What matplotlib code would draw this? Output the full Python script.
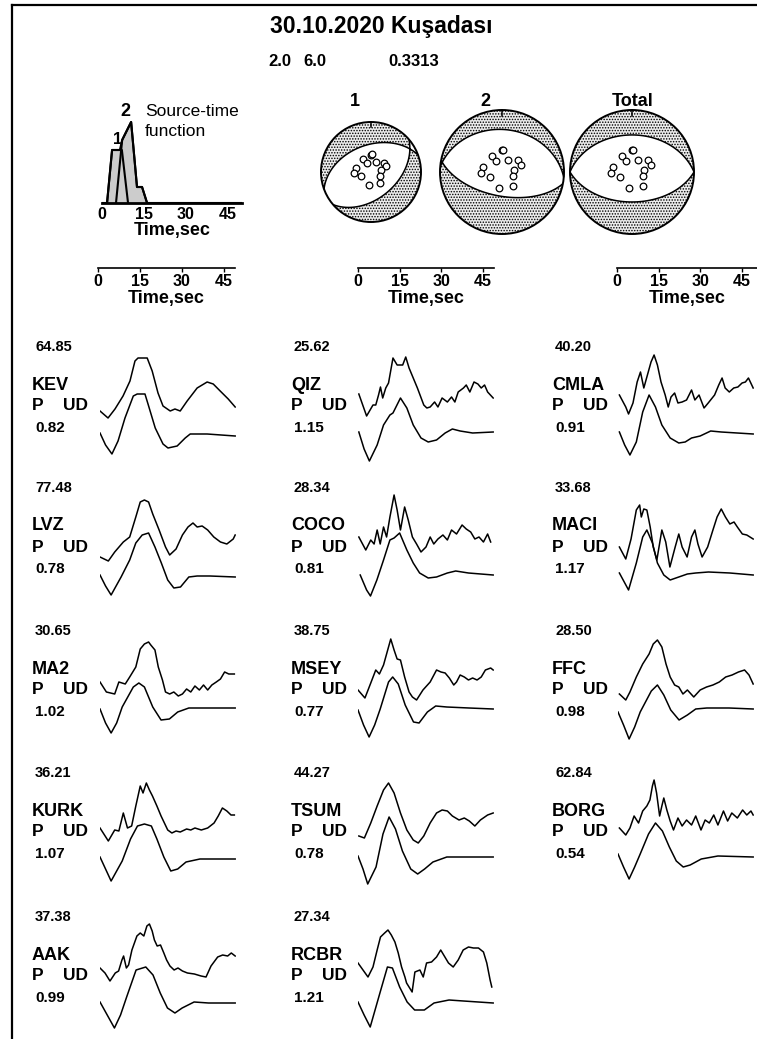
import numpy as np
import matplotlib
matplotlib.use('Agg')
import matplotlib.pyplot as plt
from matplotlib.patches import Circle

plt.rcParams['font.family'] = ['Liberation Sans', 'DejaVu Sans']
plt.rcParams['hatch.color'] = 'black'
plt.rcParams['hatch.linewidth'] = 0.7

W, H = 757, 1039

# ---- header ----
TITLE = '30.10.2020 Kuşadası'
HEADER_NUMS = ['2.0', '6.0', '0.3313']

# ---- source-time function (time in s, amplitude arbitrary) ----
STF_TOTAL_T = [0, 1.8, 3.6, 6.4, 7.2, 10.4, 12.5, 14.3, 16.1, 50]
STF_TOTAL_A = [0, 0, 53, 53, 63, 81, 16, 16, 0, 0]
STF_SUB1_T = [1.8, 3.6, 7.1, 9.3]
STF_SUB1_A = [0, 53, 53, 0]
STF_SUB2_T = [5.0, 7.2, 10.4, 12.5, 14.3, 16.1]
STF_SUB2_A = [0, 63, 81, 16, 16, 0]

# ---- focal mechanisms: strike, dip, rake ----
MECH_LABELS = ['1', '2', 'Total']
MECH_STRIKE = [250, 275, 270]
MECH_DIP = [45, 32, 40]
MECH_RAKE = [-75, -95, -90]
# station positions on the focal sphere (projected, unit radius)
STA_X = [0.0, 0.015, -0.16, -0.09, 0.09, 0.25, 0.30, -0.31, 0.20, -0.34, -0.20, 0.17, 0.17, -0.05]
STA_Y = [0.35, 0.355, 0.26, 0.18, 0.20, 0.19, 0.12, 0.08, 0.04, -0.02, -0.08, -0.07, -0.22, -0.26]

# ---- stations ----
STATIONS = ['KEV', 'QIZ', 'CMLA', 'LVZ', 'COCO', 'MACI', 'MA2', 'MSEY', 'FFC',
            'KURK', 'TSUM', 'BORG', 'AAK', 'RCBR']
TOP_VALUES = ['64.85', '25.62', '40.20', '77.48', '28.34', '33.68', '30.65', '38.75',
              '28.50', '36.21', '44.27', '62.84', '37.38', '27.34']
AMP_RATIO = ['0.82', '1.15', '0.91', '0.78', '0.81', '1.17', '1.02', '0.77', '0.98',
             '1.07', '0.78', '0.54', '0.99', '1.21']

# waveforms: (time s, amplitude) knots, observed (top) and synthetic (bottom)
KEV_OBS = [(0, 0), (2.9, -7), (5.4, 2), (8.3, 15), (10.8, 30), (12.6, 50), (13.7, 53), (17, 53),
           (18.8, 40), (20.9, 18), (22.7, 5), (25.3, 0), (27, 2), (28.9, 0), (31.4, 10), (35, 23),
           (38.6, 29), (40.8, 27), (43.3, 20), (46.2, 12), (48.7, 4)]
KEV_SYN = [(0, 0), (2, -12), (4.3, -21), (6.5, -8), (9, 15), (12, 37), (13.4, 39), (16.2, 39),
           (17.3, 29), (19.9, 5), (22.7, -11), (24.5, -15), (27.8, -13), (30.7, -5), (32.5, -1),
           (38.6, -1), (48.7, -3)]
QIZ_OBS = [(0.3, 17), (3.1, -5), (5.4, 6), (6.4, 6), (7.4, 16), (8.1, 24), (8.9, 13), (10, 23),
           (11, 28), (12.6, 53), (14.1, 46), (16.1, 46), (17.2, 54), (18.4, 43), (19.9, 33),
           (21.4, 23), (23.7, 6), (24.8, 3), (26, 4), (27.6, 9), (28.8, 4), (30.3, 13), (32.2, 9),
           (33.7, 14), (34.9, 9), (36.1, 19), (38, 23), (39, 26), (40.3, 19), (41.8, 29),
           (43.2, 27), (44.4, 23), (45.6, 26), (46.7, 19), (48.7, 13)]
QIZ_SYN = [(0.3, 1), (2.2, -16), (4.1, -28), (6.9, -12), (9.2, 8), (11.5, 18), (12.6, 20),
           (15.3, 35), (17.6, 25), (19.9, 8), (22.7, -5), (25.3, -9), (28.3, -7), (31.4, 0),
           (34, 4), (36.8, 2), (41.3, 0), (48.7, 1)]
CMLA_OBS = [(0.5, 16), (2.8, 4), (3.8, -3), (5.4, 8), (6.9, 29), (8.1, 39), (9.3, 23), (10.4, 34),
            (11.9, 49), (13, 56), (14.2, 46), (15.5, 29), (17, 16), (18.1, 4), (19.1, 14),
            (20.4, 18), (21.6, 8), (23.1, 9), (24.7, 11), (26.5, 21), (27.7, 11), (29.2, 16),
            (31, 3), (32.5, 8), (34.8, 16), (36.3, 26), (37.5, 33), (38.6, 23), (40.1, 19),
            (41.7, 23), (43.2, 24), (44.7, 28), (45.9, 29), (47, 33), (48.7, 23)]
CMLA_SYN = [(0.5, 1), (2.4, -12), (4.3, -22), (6.6, -9), (8.9, 21), (11.2, 38), (13.5, 26),
            (15.8, 8), (18.8, -5), (21.9, -10), (24.2, -9), (26.5, -5), (29.6, -3), (33.4, 2),
            (37.2, 1), (48.7, -1)]
LVZ_OBS = [(0, -5), (3, -9), (5.3, 0), (8.4, 10), (10.7, 15), (12.9, 35), (14.5, 50), (16, 52),
           (17.5, 50), (19, 38), (21.3, 22), (23.6, 5), (25.1, -3), (27.4, 3), (29.7, 17),
           (31.7, 25), (33.5, 29), (35, 25), (36.8, 26), (38.8, 22), (41, 15), (43.4, 10),
           (45.7, 8), (48, 13), (48.7, 17)]
LVZ_SYN = [(0, -1), (2, -12), (4, -21), (7.6, -3), (10.7, 14), (12.9, 31), (15.2, 39), (17.5, 41),
           (19.8, 27), (22.1, 11), (24.4, -6), (26.6, -14), (29, -13), (32, -3), (35, -2),
           (39.6, -2), (48.7, -3)]
COCO_OBS = [(0.3, 15), (2.8, 2), (4.6, 12), (5.8, 8), (6.9, 22), (8, 8), (9.2, 25), (10.3, 15),
            (11.5, 35), (13, 57), (14.1, 42), (15.3, 22), (16.8, 45), (18.1, 32), (19.6, 15),
            (21.1, 8), (22.7, 0), (24.5, 5), (26, 15), (27.3, 8), (28.8, 13), (30.6, 17),
            (32.2, 12), (33.7, 22), (35.5, 18), (37.5, 27), (39, 23), (40.6, 20), (42.1, 13),
            (43.6, 15), (45.2, 10), (46.7, 18), (47.8, 10)]
COCO_SYN = [(0.8, -1), (3.1, -16), (4.5, -22), (6.8, -6), (9.2, 14), (11.5, 34), (13, 36),
            (15, 41), (17.6, 24), (19.9, 11), (22.2, 1), (25.3, -4), (28.3, -3), (32.2, 1),
            (35.2, 3), (39.8, 1), (48.7, -1)]
MACI_OBS = [(0.5, 5), (2.8, -7), (4.7, 13), (6.6, 42), (7.8, 47), (8.4, 35), (9.3, 43),
            (10.4, 42), (11.6, 25), (12.7, 5), (14, -8), (15.8, 22), (17.2, 10), (18.7, -15),
            (20.6, 5), (21.9, 18), (23.1, 5), (24.9, -5), (26.5, 15), (27.7, 22), (28.8, 8),
            (30.3, -5), (32.3, 5), (34.2, 22), (35.7, 35), (37.2, 43), (38.7, 35), (40.3, 28),
            (41.8, 30), (43, 25), (44.8, 18), (46.4, 17), (48.7, 13)]
MACI_SYN = [(0.5, 1), (3.8, -16), (6.6, 11), (8.9, 37), (10.4, 44), (12.4, 31), (14.2, 11),
            (16.5, -1), (18.8, -6), (21.9, -3), (25, 0), (28, 1), (32.6, 2), (40.3, 1),
            (48.7, -1)]
MA2_OBS = [(0, 13), (2.3, 3), (5.3, 1), (6.8, 13), (9.1, 11), (10.7, 18), (12.9, 28), (14.5, 46),
           (16, 51), (17.5, 53), (18.3, 50), (19.8, 45), (21, 28), (22.5, 15), (23.6, 3),
           (25.1, 1), (26.6, 3), (28.2, -1), (29.7, 1), (31.2, 6), (32.7, 3), (34.2, 9),
           (35.8, 5), (37.3, 10), (38.8, 5), (40.3, 10), (41.9, 13), (43.4, 16), (44.9, 23),
           (46.4, 21), (48.4, 21)]
MA2_SYN = [(0, 8), (2, -6), (4, -16), (6, -6), (8, 10), (12, 30), (14, 34), (16, 30), (19, 10),
           (22, -3), (25, -2), (28, 5), (32, 9), (40, 9), (48.7, 9)]
MSEY_OBS = [(0, 5), (2.5, -3), (4.6, 12), (6.4, 25), (7.7, 21), (9.2, 30), (10.7, 45), (11.8, 56),
            (13, 45), (14.1, 36), (15.3, 35), (16.8, 18), (18.4, 3), (19.6, -2), (21.1, -5),
            (23.4, 5), (26, 13), (28.3, 25), (29.9, 23), (31.4, 22), (32.9, 17), (34.5, 10),
            (35.5, 13), (36.8, 20), (38.3, 18), (39.8, 15), (41.3, 17), (42.9, 15), (44.4, 18),
            (45.9, 25), (47.8, 27), (48.7, 25)]
MSEY_SYN = [(0, 7), (2, -8), (4, -20), (6, -8), (8, 8), (11, 35), (12.5, 40), (14.5, 33),
            (17, 12), (20, -5), (22, -6), (25, 5), (28, 11), (32, 10), (40, 9), (48.7, 8)]
FFC_OBS = [(0.5, 1), (2.8, -5), (4.3, 3), (6.6, 18), (8.9, 31), (11.2, 41), (12.7, 51),
           (14.2, 55), (15.8, 48), (17.3, 31), (18.8, 18), (20.4, 10), (21.9, 8), (23.4, 1),
           (25, 5), (27.3, -2), (29.6, 5), (31.9, 8), (34.2, 10), (36.5, 13), (38.8, 18),
           (41.1, 20), (43.4, 23), (45.6, 25), (47.2, 20), (48.7, 11)]
FFC_SYN = [(0, 5), (2, -8), (4, -22), (6, -10), (8, 5), (12, 26), (14.2, 32), (16.5, 22),
           (19, 7), (22, -3), (25, 2), (28, 8), (32, 9), (40, 9), (48.7, 8)]
KURK_OBS = [(0, 9), (3, -4), (5.3, 7), (6.8, 6), (8.4, 24), (9.9, 9), (11.4, 11), (12.9, 31),
            (14.5, 51), (15.5, 44), (16.7, 54), (17.8, 47), (18.9, 41), (20.5, 31), (22, 21),
            (24.4, 7), (25.9, 4), (27.4, 6), (28.9, 5), (31.2, 8), (32.7, 7), (34.2, 9),
            (36.5, 7), (38.8, 9), (41.1, 14), (42.6, 21), (44.1, 29), (45.7, 26), (47.2, 22),
            (48.4, 22)]
KURK_SYN = [(0, 2), (2, -10), (4, -22), (8, -2), (11, 20), (13.5, 33), (16, 35), (18.5, 33),
            (20.5, 20), (23, 2), (25.5, -12), (28, -10), (31, -3), (36, 0), (48.7, 0)]
TSUM_OBS = [(0.3, 1), (2.3, -1), (4.6, 14), (6.9, 31), (9.2, 47), (11, 54), (13, 44),
            (15.3, 24), (17.6, 7), (19.9, -3), (21.7, -6), (23.7, 1), (26, 14), (28.3, 24),
            (30.3, 27), (32.2, 26), (34, 21), (36.4, 17), (38.3, 19), (40.1, 16), (42.1, 11),
            (44.1, 17), (46.7, 22), (48.7, 24)]
TSUM_SYN = [(0, 3), (1.8, -10), (3.5, -25), (6.5, -8), (9, 25), (11.2, 42), (13.5, 30),
            (16, 8), (19, -10), (21.5, -15), (24, -10), (27, -3), (32, 2), (40, 2), (48.7, 2)]
BORG_OBS = [(0.5, 9), (2.8, 2), (4.3, 9), (5.8, 21), (7.4, 14), (8.9, 26), (10.4, 31),
            (11.5, 37), (12.4, 51), (13, 57), (13.9, 44), (15, 21), (15.8, 31), (16.5, 39),
            (17.6, 27), (18.8, 16), (20, 7), (21.6, 19), (23.1, 11), (24.7, 17), (26.5, 12),
            (28, 21), (29.9, 7), (31.4, 17), (32.9, 14), (34.5, 22), (36, 12), (38, 26),
            (39.5, 16), (41, 24), (43, 19), (44.9, 27), (46.4, 22), (47.9, 26), (48.7, 22)]
BORG_SYN = [(0, 5), (2, -8), (4, -20), (6, -8), (8, 5), (11, 25), (13.5, 36), (16, 28),
            (18.5, 12), (21, -2), (23.5, -8), (26, -6), (30, 0), (36, 3), (48.7, 2)]
AAK_OBS = [(0, 13), (1.8, 8), (3.6, 0), (5.5, 8), (6.7, 10), (7.9, 21), (8.5, 25), (9.5, 13),
           (10.3, 16), (11.5, 31), (13.3, 45), (14.5, 48), (15.8, 45), (16.9, 55), (17.8, 57),
           (18.8, 50), (19.6, 41), (20.6, 35), (21.8, 36), (23, 28), (24, 21), (25.2, 15),
           (26.7, 11), (28.1, 13), (29.7, 10), (31.5, 8), (34, 7), (36.4, 5), (38.2, 4),
           (40, 15), (42.4, 24), (44.2, 26), (46, 25), (47.3, 28), (48.7, 25)]
AAK_SYN = [(0, 1), (2.6, -12), (5.2, -25), (7.4, -12), (9.6, 6), (13, 33), (16.5, 36),
           (19.1, 28), (21.7, 10), (24.3, -5), (27, -10), (29.6, -5), (33.9, 1), (39.1, 0),
           (48.7, 0)]
RCBR_OBS = [(0, 18), (1.8, 11), (3.6, 4), (5.4, 14), (6.9, 31), (8.1, 44), (9.6, 48),
            (10.8, 51), (12, 46), (13.3, 39), (14.5, 28), (15.7, 14), (16.9, 4), (17.5, -2),
            (19.5, -11), (20.5, 9), (22.3, 11), (23.5, 4), (24.7, 18), (26.5, 19), (28.3, 24),
            (29.8, 31), (32.6, 18), (34.3, 14), (36.1, 21), (37.9, 31), (39.8, 34), (41.6, 33),
            (43.4, 33), (45.2, 29), (46.4, 18), (47.6, 1), (48.2, -6)]
RCBR_SYN = [(0, 1), (2.2, -12), (4.4, -24), (8, 11), (10.6, 36), (12.4, 35), (15, 16),
            (17.7, 1), (20.4, -7), (23.9, -7), (27.4, 0), (32.8, 3), (38, 2), (48.7, 0)]

OBS = [KEV_OBS, QIZ_OBS, CMLA_OBS, LVZ_OBS, COCO_OBS, MACI_OBS, MA2_OBS, MSEY_OBS, FFC_OBS,
       KURK_OBS, TSUM_OBS, BORG_OBS, AAK_OBS, RCBR_OBS]
SYN = [KEV_SYN, QIZ_SYN, CMLA_SYN, LVZ_SYN, COCO_SYN, MACI_SYN, MA2_SYN, MSEY_SYN, FFC_SYN,
       KURK_SYN, TSUM_SYN, BORG_SYN, AAK_SYN, RCBR_SYN]

# ---- layout (pixels, origin top-left) ----
COL_LABEL_X = [32, 291, 552]
COL_TRACE_X = [100, 358, 618]
ROW_Y = [347, 488, 631, 773, 917]
SYN_DROP = 22


def px_axes(fig, x0, y0, w, h):
    return fig.add_axes([x0 / W, 1 - (y0 + h) / H, w / W, h / H])


def beachball(ax, strike, dip, rake):
    g = np.linspace(-1, 1, 501)
    X, Y = np.meshgrid(g, g)
    R = np.hypot(X, Y)
    inc = 2 * np.arcsin(np.clip(R / np.sqrt(2), 0, 1))
    az = np.arctan2(X, Y)
    gam = np.stack([np.sin(inc) * np.cos(az), np.sin(inc) * np.sin(az), np.cos(inc)])
    phi, delta, lam = np.radians([strike, dip, rake])
    n = np.array([-np.sin(delta) * np.sin(phi), np.sin(delta) * np.cos(phi), -np.cos(delta)])
    d = np.array([np.cos(lam) * np.cos(phi) + np.sin(lam) * np.cos(delta) * np.sin(phi),
                  np.cos(lam) * np.sin(phi) - np.sin(lam) * np.cos(delta) * np.cos(phi),
                  -np.sin(lam) * np.sin(delta)])
    Z = np.tensordot(n, gam, 1) * np.tensordot(d, gam, 1)
    Z = np.where(R <= 1, Z, np.nan)
    ax.contourf(X, Y, Z, levels=[-2, 0, 2], colors=['white', '#ececec'], hatches=['', '......'])
    ax.contour(X, Y, Z, levels=[0], colors='black', linewidths=1.1)
    ax.add_patch(Circle((0, 0), 1, fill=False, lw=1.4, color='black'))
    ax.plot([0, 0], [0.9, 1.0], color='black', lw=1.1)
    ax.plot(STA_X, STA_Y, 'o', mfc='white', mec='black', ms=4.8, mew=0.9)
    ax.set_xlim(-1.05, 1.05)
    ax.set_ylim(-1.05, 1.05)
    ax.set_aspect('equal')
    ax.axis('off')


def time_axis(ax, xmax):
    for s in ['top', 'left', 'right']:
        ax.spines[s].set_visible(False)
    ax.spines['bottom'].set_linewidth(1.2)
    ax.set_xlim(0, xmax)
    ax.set_yticks([])
    ax.set_xticks([0, 15, 30, 45])
    ax.tick_params(axis='x', length=3, width=1.0, pad=1, labelsize=11.5)
    for lab in ax.get_xticklabels():
        lab.set_fontweight('bold')
    ax.set_xlabel('Time,sec', fontsize=13, fontweight='bold', labelpad=1)
    ax.patch.set_alpha(0)


fig = plt.figure(figsize=(W / 100, H / 100), dpi=100)
bg = fig.add_axes([0, 0, 1, 1])
bg.set_xlim(0, W)
bg.set_ylim(H, 0)
bg.axis('off')

# frame
bg.plot([12, 12], [5, H], color='black', lw=1.6)
bg.plot([12, W], [5, 5], color='black', lw=1.6)

# header
bg.text(381, 26, TITLE, ha='center', va='center', fontsize=16.5, fontweight='bold')
for x, s in zip([268, 303, 388], HEADER_NUMS):
    bg.text(x, 62, s, ha='left', va='center', fontsize=12, fontweight='bold')

# source-time function
stf = px_axes(fig, 102, 100, 140, 103)
stf.fill(STF_TOTAL_T, STF_TOTAL_A, color='#cccccc', zorder=1)
stf.plot(STF_TOTAL_T, STF_TOTAL_A, color='black', lw=1.5, zorder=2)
stf.plot(STF_SUB1_T, STF_SUB1_A, color='black', lw=1.5, zorder=3)
stf.plot(STF_SUB2_T, STF_SUB2_A, color='black', lw=1.5, zorder=3)
stf.set_xlim(0, 50)
stf.set_ylim(0, 103)
for s in ['top', 'left', 'right']:
    stf.spines[s].set_visible(False)
stf.spines['bottom'].set_linewidth(2.0)
stf.set_yticks([])
stf.set_xticks([0, 15, 30, 45])
stf.tick_params(axis='x', length=0, pad=3, labelsize=11.5)
for lab in stf.get_xticklabels():
    lab.set_fontweight('bold')
stf.set_xlabel('Time,sec', fontsize=13, fontweight='bold', labelpad=0)
stf.patch.set_alpha(0)
bg.text(145, 111, 'Source-time', ha='left', va='center', fontsize=12.5)
bg.text(145, 131, 'function', ha='left', va='center', fontsize=12.5)
bg.text(125, 112, '2', ha='center', va='center', fontsize=13, fontweight='bold')
bg.text(118, 140, '1', ha='center', va='center', fontsize=12, fontweight='bold')

# focal mechanisms
BALL_CX = [371, 502, 632]
BALL_R = [50, 62, 62]
LABEL_X = [355, 485, 633]
for k in range(3):
    r = BALL_R[k]
    ax = px_axes(fig, BALL_CX[k] - 1.05 * r, 172 - 1.05 * r, 2.1 * r, 2.1 * r)
    beachball(ax, MECH_STRIKE[k], MECH_DIP[k], MECH_RAKE[k])
    bg.text(LABEL_X[k], 102, MECH_LABELS[k], ha='center', va='center', fontsize=13,
            fontweight='bold')

# time scale bars
for x0, w, xmax in [(98, 137, 49), (358, 136, 49), (617, 140, 50.5)]:
    ax = px_axes(fig, x0, 248, w, 20)
    time_axis(ax, xmax)

# station panels
for i, name in enumerate(STATIONS):
    row, col = divmod(i, 3)
    y = ROW_Y[row]
    xl = COL_LABEL_X[col]
    bg.text(xl + 3, y, TOP_VALUES[i], ha='left', va='center', fontsize=10.5, fontweight='bold')
    bg.text(xl, y + 38, name, ha='left', va='center', fontsize=13, fontweight='bold')
    bg.text(xl, y + 59, 'P', ha='left', va='center', fontsize=12.5, fontweight='bold')
    bg.text(xl + 31, y + 59, 'UD', ha='left', va='center', fontsize=12.5, fontweight='bold')
    bg.text(xl + 3, y + 81, AMP_RATIO[i], ha='left', va='center', fontsize=11, fontweight='bold')

    ax = px_axes(fig, COL_TRACE_X[col], y - 10, 136, 135)
    t, a = zip(*OBS[i])
    ax.plot(t, a, color='black', lw=1.1)
    t, a = zip(*SYN[i])
    ax.plot(t, np.array(a) - SYN_DROP, color='black', lw=1.1)
    ax.set_xlim(0, 49)
    ax.set_ylim(-61, 74)
    ax.axis('off')

fig.savefig('out.png', dpi=100)
